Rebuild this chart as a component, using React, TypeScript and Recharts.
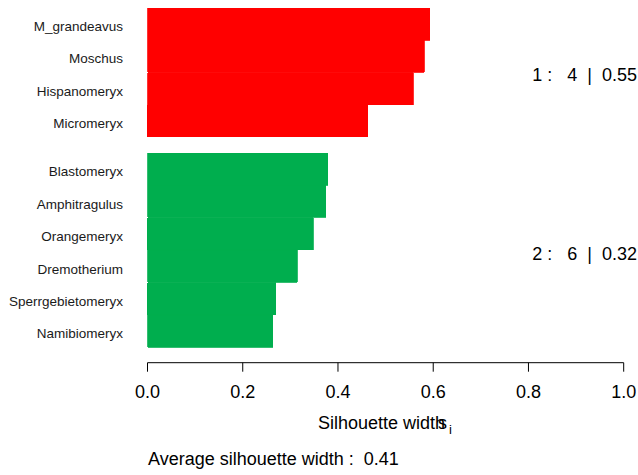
import { Bar, BarChart, Cell, XAxis, YAxis } from "recharts";

const cluster1Names = ["M_grandeavus", "Moschus", "Hispanomeryx", "Micromeryx"];
const cluster1Widths = [0.593, 0.581, 0.558, 0.463];

const cluster2Names = [
  "Blastomeryx",
  "Amphitragulus",
  "Orangemeryx",
  "Dremotherium",
  "Sperrgebietomeryx",
  "Namibiomeryx",
];
const cluster2Widths = [0.379, 0.374, 0.348, 0.314, 0.269, 0.263];

const xTicks = [0, 0.2, 0.4, 0.6, 0.8, 1.0];

const clusterColors = ["#FF0000", "#00AE4E"];

const FONT = "'Liberation Sans', Arial, Helvetica, sans-serif";

const mean = (v: number[]) => v.reduce((a, b) => a + b, 0) / v.length;

const NameTick = (props: any) => {
  const { x, y, payload } = props;
  return (
    <text x={x} y={y} dy={7} textAnchor="end" fontSize={13.5} fill="#1a1a1a" fontFamily={FONT}>
      {payload.value}
    </text>
  );
};

const toRows = (names: string[], widths: number[]) =>
  names.map((name, i) => ({ name, width: widths[i] }));

export default function App() {
  const rows1 = toRows(cluster1Names, cluster1Widths);
  const rows2 = toRows(cluster2Names, cluster2Widths);
  const avg1 = mean(cluster1Widths);
  const avg2 = mean(cluster2Widths);
  const avgAll = mean([...cluster1Widths, ...cluster2Widths]);

  const margin = { left: 0, right: 14.3 };

  return (
    <div style={{ position: "absolute", left: 0, top: 0, width: 638, height: 475, background: "#fff", fontFamily: FONT }}>
      <div style={{ position: "absolute", left: 0, top: 0 }}>
        <BarChart
          width={638}
          height={140}
          data={rows1}
          layout="vertical"
          barCategoryGap={0}
          margin={{ ...margin, top: 8, bottom: 2.7 }}
        >
          <XAxis type="number" domain={[0, 1]} hide />
          <YAxis
            type="category"
            dataKey="name"
            width={147.5}
            axisLine={false}
            tickLine={false}
            tickSize={0}
            tickMargin={24.5}
            tick={<NameTick />}
            interval={0}
          />
          <Bar dataKey="width" isAnimationActive={false} shapeRendering="crispEdges">
            {rows1.map((r) => (
              <Cell key={r.name} fill={clusterColors[0]} stroke={clusterColors[0]} strokeWidth={0.8} />
            ))}
          </Bar>
        </BarChart>
      </div>
      <div style={{ position: "absolute", left: 0, top: 0 }}>
        <BarChart
          width={638}
          height={475}
          data={rows2}
          layout="vertical"
          barCategoryGap={0}
          margin={{ ...margin, top: 153, bottom: 72.3 }}
        >
          <XAxis
            type="number"
            domain={[0, 1]}
            ticks={xTicks}
            tickFormatter={(v: number) => v.toFixed(1)}
            height={40}
            stroke="#000"
            tickSize={9}
            tickMargin={14}
            tick={{ fontSize: 18, fill: "#000", fontFamily: FONT }}
            interval={0}
          />
          <YAxis
            type="category"
            dataKey="name"
            width={147.5}
            axisLine={false}
            tickLine={false}
            tickSize={0}
            tickMargin={24.5}
            tick={<NameTick />}
            interval={0}
            padding={{ top: 0, bottom: 15 }}
          />
          <Bar dataKey="width" isAnimationActive={false} shapeRendering="crispEdges">
            {rows2.map((r) => (
              <Cell key={r.name} fill={clusterColors[1]} stroke={clusterColors[1]} strokeWidth={0.8} />
            ))}
          </Bar>
        </BarChart>
      </div>
      <svg
        width={638}
        height={475}
        style={{ position: "absolute", left: 0, top: 0, pointerEvents: "none" }}
        fontFamily={FONT}
      >
        <text x={637} y={80.5} textAnchor="end" fontSize={18} fill="#000" style={{ whiteSpace: "pre" }}>
          {`1 :   ${cluster1Widths.length}  |  ${avg1.toFixed(2)}`}
        </text>
        <text x={637} y={260} textAnchor="end" fontSize={18} fill="#000" style={{ whiteSpace: "pre" }}>
          {`2 :   ${cluster2Widths.length}  |  ${avg2.toFixed(2)}`}
        </text>
        <text x={318} y={429} fontSize={18} fill="#000">
          Silhouette width
        </text>
        <text x={438} y={429} fontSize={18} fill="#000">
          s
        </text>
        <text x={449} y={434} fontSize={13} fill="#000">
          i
        </text>
        <text x={148} y={465} fontSize={18} fill="#000" style={{ whiteSpace: "pre" }}>
          {`Average silhouette width :  ${avgAll.toFixed(2)}`}
        </text>
      </svg>
    </div>
  );
}
